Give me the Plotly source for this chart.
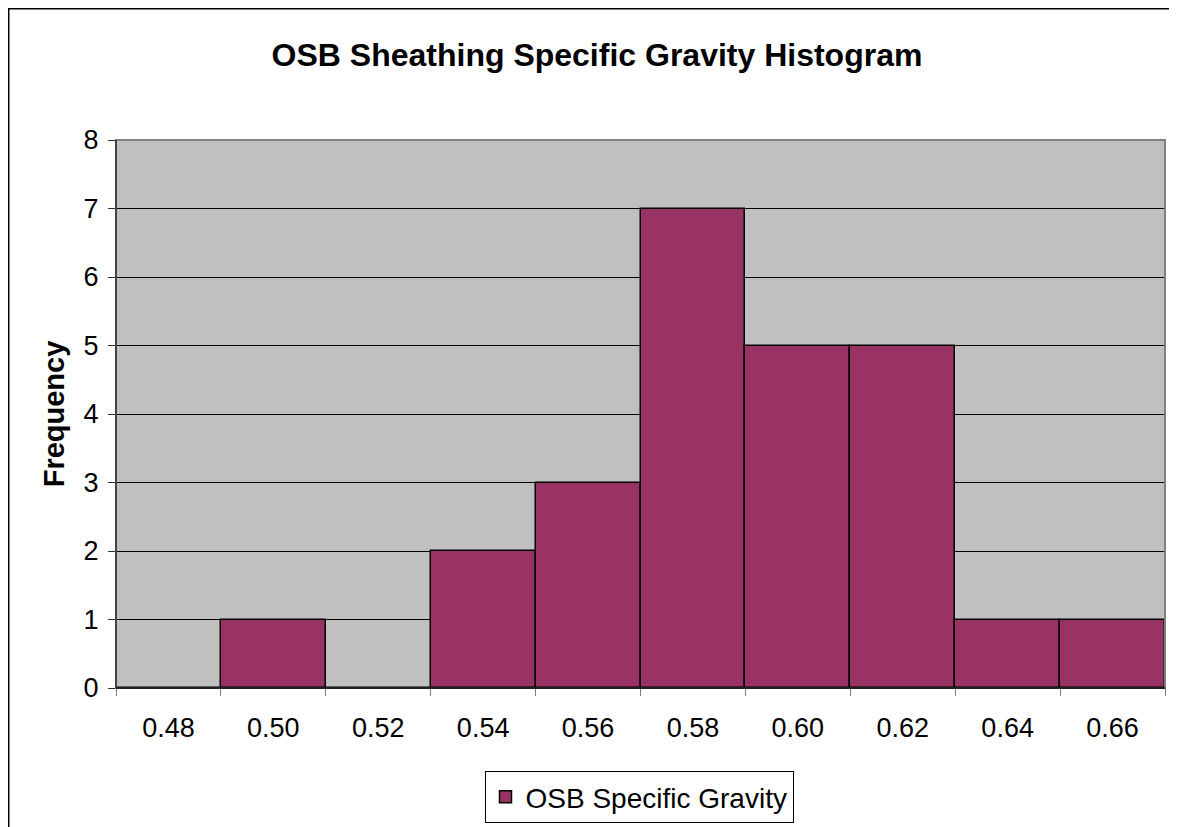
import plotly.graph_objects as go

categories = ["0.48", "0.50", "0.52", "0.54", "0.56", "0.58", "0.60", "0.62", "0.64", "0.66"]
frequency = [0, 1, 0, 2, 3, 7, 5, 5, 1, 1]
series_name = "OSB Specific Gravity"
title = "OSB Sheathing Specific Gravity Histogram"
y_title = "Frequency"

# page has an 8px body margin, so the figure is sized / offset to compensate
OFF = 8
W, H = 1177 - OFF, 827 - OFF
PL, PR, PT, PB = 116, 1165, 140, 688          # plot area in page pixels
L, R, T, B = PL - OFF, W - (PR - OFF), PT - OFF, H - (PB - OFF)
pw, ph = W - L - R, H - T - B

def px_x(px):
    return (px - OFF - L) / pw

def px_y(py):
    return (PB - py) / ph

font = "Liberation Sans, Arial, sans-serif"

fig = go.Figure()
fig.add_trace(go.Bar(
    x=categories, y=frequency, name=series_name,
    marker=dict(color="#993366", line=dict(color="#000000", width=1.5)),
    showlegend=True,
))

fig.update_layout(
    width=W, height=H,
    margin=dict(l=L, r=R, t=T, b=B, autoexpand=False),
    paper_bgcolor="white", plot_bgcolor="#C0C0C0",
    bargap=0,
    font=dict(family=font, size=27, color="black"),
    title=dict(text="<b>" + title + "</b>", x=px_x(597), xref="paper", xanchor="center",
               y=1 - (55 - OFF) / H, yanchor="middle", font=dict(size=32, family=font)),
    showlegend=True,
    legend=dict(orientation="h", xref="container", yref="container",
                x=(639 - OFF) / W, xanchor="center", y=1 - (797 - OFF) / H, yanchor="middle",
                bordercolor="black", borderwidth=1, bgcolor="white",
                font=dict(size=28, family=font)),
    xaxis=dict(type="category", tickson="boundaries", ticks="outside", ticklen=7,
               tickcolor="#808080", showline=True, linecolor="black", linewidth=1,
               showgrid=False, ticklabelstandoff=16, tickfont=dict(size=27), automargin=False),
    yaxis=dict(range=[0, 8], dtick=1, ticks="outside", ticklen=7, tickcolor="#303030",
               showline=True, linecolor="#303030", linewidth=1,
               showgrid=True, gridcolor="#000000", gridwidth=1, zeroline=False,
               ticklabelstandoff=4, tickfont=dict(size=27), automargin=False,
               title=dict(text="<b>" + y_title + "</b>", font=dict(size=29), standoff=10)),
    shapes=[
        dict(type="rect", xref="paper", yref="paper", x0=0, x1=1, y0=0, y1=1,
             line=dict(color="#808080", width=2), fillcolor="rgba(0,0,0,0)", layer="above"),
        dict(type="line", xref="paper", yref="paper", x0=0, x1=1, y0=0, y1=0,
             line=dict(color="black", width=1.5), layer="above"),
        dict(type="line", xref="paper", yref="paper", x0=0, x1=0, y0=0, y1=1,
             line=dict(color="#303030", width=1.5), layer="above"),
        dict(type="rect", xref="paper", yref="paper", x0=(0.75 - L) / pw, x1=px_x(1190),
             y0=px_y(840), y1=(H - B - 0.75) / ph, line=dict(color="black", width=1.5),
             fillcolor="rgba(0,0,0,0)", layer="below"),
    ],
)

fig.write_html("out.html")
